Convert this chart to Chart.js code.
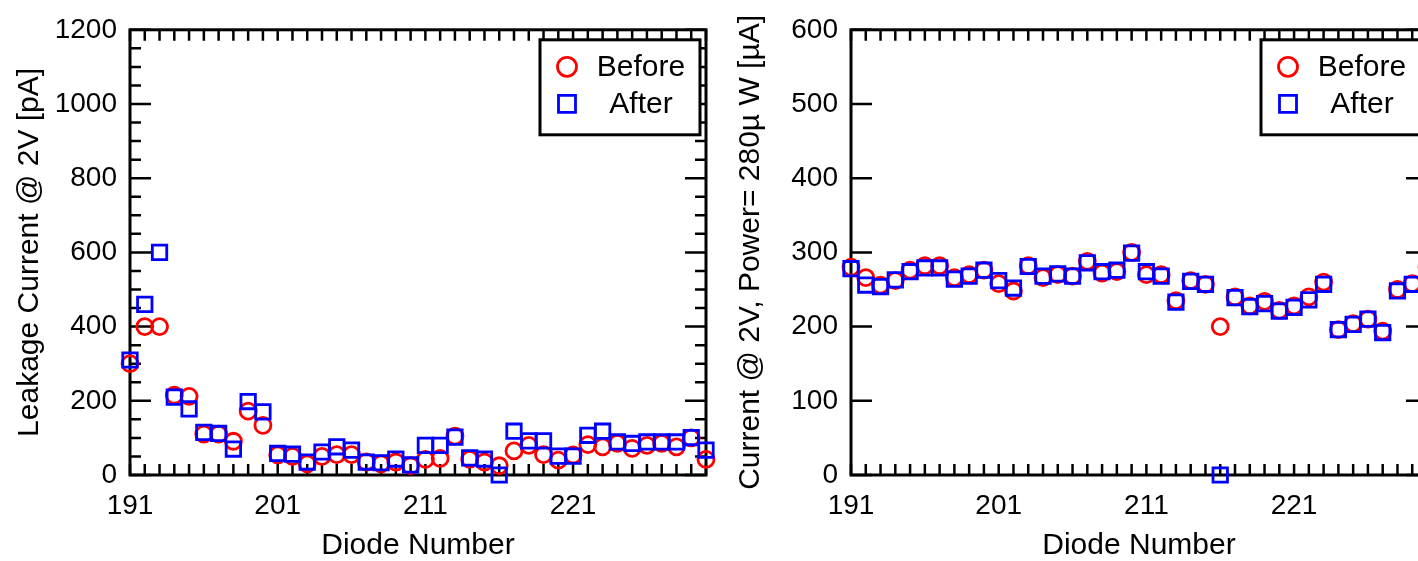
<!DOCTYPE html>
<html>
<head>
<meta charset="utf-8">
<title>Diode leakage and current, before and after</title>
<script src="https://cdn.jsdelivr.net/npm/chart.js@4.4.1/dist/chart.umd.min.js"></script>
<style>
  html, body { margin: 0; padding: 0; background: #fff; overflow: hidden; }
  body { width: 1418px; height: 561px; position: relative; }
  .panel { position: absolute; top: 0; width: 720px; height: 561px; }
  #leftPanel { left: 0; }
  #rightPanel { left: 721px; }
</style>
</head>
<body>
<div class="panel" id="leftPanel"><canvas id="leakageChart" width="720" height="561"></canvas></div>
<div class="panel" id="rightPanel"><canvas id="currentChart" width="720" height="561"></canvas></div>
<script>
// --- data ---
const diodes = [191, 192, 193, 194, 195, 196, 197, 198, 199, 200,
                201, 202, 203, 204, 205, 206, 207, 208, 209, 210,
                211, 212, 213, 214, 215, 216, 217, 218, 219, 220,
                221, 222, 223, 224, 225, 226, 227, 228, 229, 230];

// leakage current @ 2V [pA]
const leakageBefore = [300, 400, 400, 215, 212, 110, 110, 91, 172, 134,
                       54, 50, 30, 50, 55, 55, 35, 30, 35, 25,
                       42, 45, 105, 42, 35, 25, 65, 80, 55, 40,
                       54, 82, 76, 85, 72, 80, 85, 76, 100, 42];
const leakageAfter = [310, 460, 600, 210, 178, 115, 112, 70, 198, 170,
                      58, 56, 35, 62, 76, 67, 35, 33, 43, 27,
                      80, 80, 102, 46, 43, 0, 118, 92, 92, 51,
                      51, 107, 118, 89, 85, 89, 89, 89, 101, 67];

// current @ 2V, 280 uW [uA]
const currentBefore = [280, 266, 256, 262, 276, 282, 282, 266, 270, 276,
                       258, 248, 282, 266, 270, 268, 288, 272, 274, 300,
                       270, 270, 235, 262, 257, 200, 240, 228, 234, 222,
                       228, 240, 260, 196, 204, 210, 194, 250, 258, 280];
const currentAfter = [278, 256, 254, 263, 274, 279, 279, 264, 268, 276,
                      262, 252, 281, 268, 271, 268, 286, 274, 276, 299,
                      274, 268, 233, 261, 257, 0, 239, 227, 231, 221,
                      226, 236, 257, 196, 203, 210, 192, 248, 257, 262];

const xTickLabels = [191, 201, 211, 221];
const leakageTickLabels = [0, 200, 400, 600, 800, 1000, 1200];
const currentTickLabels = [0, 100, 200, 300, 400, 500, 600];

const FONT = '"Liberation Sans", Arial, Helvetica, sans-serif';
const tickFont = { family: FONT, size: 28 };
const titleFont = { family: FONT, size: 30, lineHeight: 1 };

const toPoints = (ys) => diodes.map((d, i) => ({ x: d, y: ys[i] }));

// frame with inward ticks on all four sides
const frameTicks = {
  id: 'frameTicks',
  beforeDatasetsDraw(chart, args, opts) {
    const { ctx, chartArea: a, scales: { x, y } } = chart;
    ctx.save();
    ctx.strokeStyle = '#000';
    ctx.lineWidth = 2.5;
    ctx.beginPath();
    x.ticks.forEach(t => {
      const px = x.getPixelForValue(t.value);
      ctx.moveTo(px, a.bottom); ctx.lineTo(px, a.bottom - 11);
      ctx.moveTo(px, a.top); ctx.lineTo(px, a.top + 11);
    });
    y.ticks.forEach(t => {
      const py = y.getPixelForValue(t.value);
      const len = opts.major.includes(t.value) ? 21 : 11;
      ctx.moveTo(a.left, py); ctx.lineTo(a.left + len, py);
      ctx.moveTo(a.right, py); ctx.lineTo(a.right - len, py);
    });
    ctx.stroke();
    ctx.lineWidth = 3;
    ctx.strokeRect(a.left, a.top, a.right - a.left, a.bottom - a.top);
    ctx.restore();
  }
};

// boxed legend in the top-right corner of the plot
const boxLegend = {
  id: 'boxLegend',
  afterDatasetsDraw(chart) {
    const { ctx, chartArea: a } = chart;
    const w = 160, h = 95;
    const left = a.right - 6 - w, top = a.top + 10;
    ctx.save();
    ctx.fillStyle = '#fff';
    ctx.fillRect(left, top, w, h);
    ctx.lineWidth = 3;
    ctx.strokeStyle = '#000';
    ctx.strokeRect(left, top, w, h);
    ctx.font = '30px ' + FONT;
    ctx.textAlign = 'center';
    ctx.textBaseline = 'middle';
    chart.data.datasets.forEach((ds, i) => {
      const rowY = top + 27 + i * 37;
      const mx = left + 27;
      ctx.strokeStyle = ds.borderColor;
      ctx.lineWidth = ds.borderWidth;
      ctx.beginPath();
      if (ds.pointStyle === 'circle') {
        ctx.arc(mx, rowY, 9.5, 0, Math.PI * 2);
      } else {
        ctx.rect(mx - 8.5, rowY - 8.5, 17, 17);
      }
      ctx.stroke();
      ctx.fillStyle = '#000';
      ctx.fillText(ds.label, left + 101, rowY + 1);
    });
    ctx.restore();
  }
};

function makeChart(canvasId, before, after, yMax, yStep, yLabels, yTitle) {
  return new Chart(document.getElementById(canvasId), {
    type: 'scatter',
    data: {
      datasets: [
        {
          label: 'Before',
          data: toPoints(before),
          pointStyle: 'circle',
          pointRadius: 8,
          borderWidth: 2.8,
          borderColor: '#ff0000',
          backgroundColor: 'rgba(0,0,0,0)',
          clip: false,
          order: 2,
        },
        {
          label: 'After',
          data: toPoints(after),
          pointStyle: 'rect',
          pointRadius: 10.2,
          borderWidth: 2.8,
          borderColor: '#0000ff',
          backgroundColor: 'rgba(0,0,0,0)',
          clip: false,
          order: 1,
        },
      ],
    },
    options: {
      responsive: false,
      animation: false,
      events: [],
      layout: { padding: { top: 28, right: 12, left: 0, bottom: 0 } },
      plugins: {
        legend: { display: false },
        tooltip: { enabled: false },
        frameTicks: { major: yLabels },
      },
      scales: {
        x: {
          type: 'linear',
          min: 191,
          max: 230,
          afterFit(scale) { scale.height = 86; },
          grid: { display: false, drawTicks: false },
          border: { display: false },
          ticks: {
            stepSize: 1,
            autoSkip: false,
            maxRotation: 0,
            padding: 14,
            color: '#000',
            font: tickFont,
            callback: (v) => (xTickLabels.includes(v) ? String(v) : ''),
          },
          title: {
            display: true,
            text: 'Diode Number',
            color: '#000',
            font: titleFont,
            padding: { top: 0, bottom: 0 },
          },
        },
        y: {
          min: 0,
          max: yMax,
          afterFit(scale) { scale.width = 130; },
          grid: { display: false, drawTicks: false },
          border: { display: false },
          ticks: {
            stepSize: yStep,
            autoSkip: false,
            padding: 13,
            color: '#000',
            font: tickFont,
            callback: (v) => (yLabels.includes(v) ? String(v) : ''),
          },
          title: {
            display: true,
            text: yTitle,
            color: '#000',
            font: titleFont,
            padding: { top: 15, bottom: 0 },
          },
        },
      },
    },
    plugins: [frameTicks, boxLegend],
  });
}

makeChart('leakageChart', leakageBefore, leakageAfter, 1200, 50,
          leakageTickLabels, 'Leakage Current @ 2V [pA]');
makeChart('currentChart', currentBefore, currentAfter, 600, 100,
          currentTickLabels, 'Current @ 2V, Power= 280\u00b5 W [\u00b5A]');
</script>
</body>
</html>
